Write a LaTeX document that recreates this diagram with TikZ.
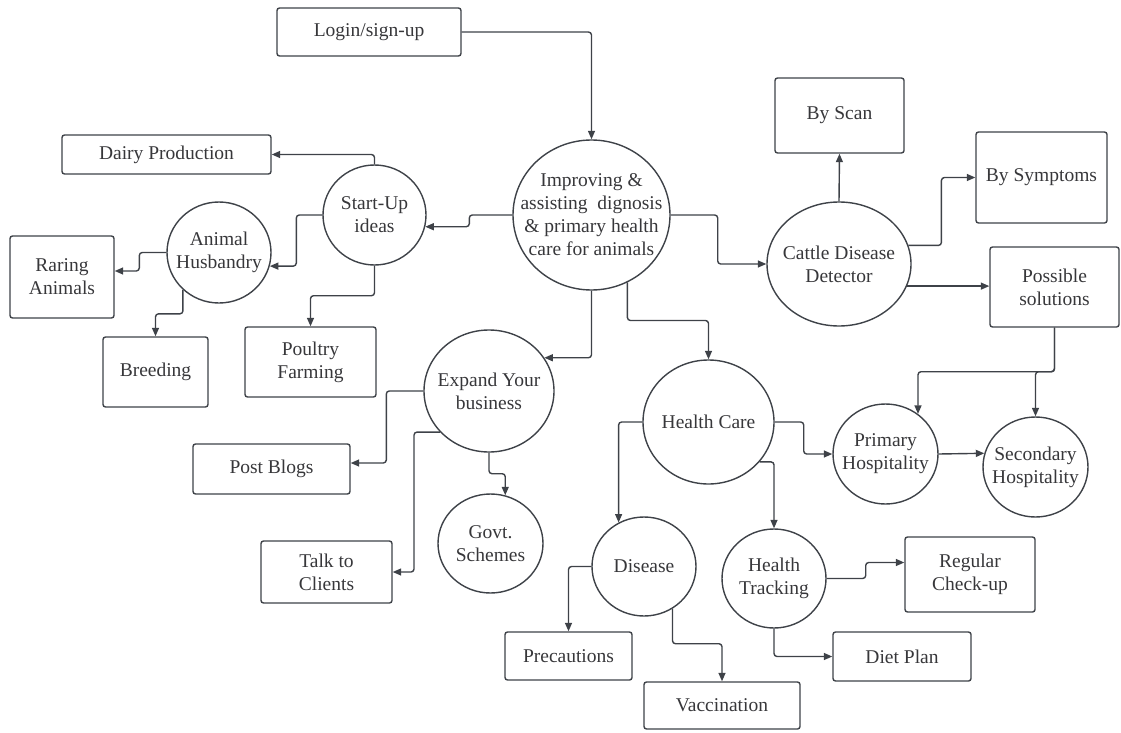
\documentclass[tikz,border=0pt]{standalone}
\usepackage{fontspec}
\setmainfont{Liberation Serif}
\usetikzlibrary{shapes.geometric,arrows.meta,calc}
\definecolor{linecol}{RGB}{62,66,72}
\definecolor{txtcol}{RGB}{55,55,58}
\tikzset{
  fnt/.style={text=txtcol,align=center,font=\fontsize{19.5}{23}\selectfont},
  base/.style={draw=linecol,line width=1.4pt,inner sep=0pt},
  boxn/.style={base,fnt,rectangle,rounded corners=2.5pt},
  circn/.style={base,ellipse},
  lbl/.style={fnt,inner sep=0pt},
  arr/.style={draw=linecol,line width=1.4pt,rounded corners=3pt,-{Triangle[length=8.5pt,width=7pt]}},
}
\begin{document}
\begin{tikzpicture}[x=1pt,y=-1pt]
\useasboundingbox (0,0) rectangle (1121,733);
% boxes
\node[boxn,minimum width=184,minimum height=48] (login) at (369,32) {Login/sign-up};
\node[boxn,minimum width=209,minimum height=39] (dairy) at (166.5,154.5) {Dairy Production};
\node[boxn,minimum width=104,minimum height=82] (raring) at (62,277) {Raring\\Animals};
\node[boxn,minimum width=105,minimum height=70] (breeding) at (155.5,372) {Breeding};
\node[boxn,minimum width=131,minimum height=70] (poultry) at (310.5,362) {Poultry\\Farming};
\node[boxn,minimum width=157,minimum height=50] (blogs) at (271.5,469) {Post Blogs};
\node[boxn,minimum width=131,minimum height=62] (talk) at (326.5,572) {Talk to\\Clients};
\node[boxn,minimum width=127,minimum height=48] (prec) at (568.5,656) {Precautions};
\node[boxn,minimum width=156,minimum height=47] (vacc) at (722,705.5) {Vaccination};
\node[boxn,minimum width=138,minimum height=49] (diet) at (902,656.5) {Diet Plan};
\node[boxn,minimum width=130,minimum height=75] (regular) at (970,574.5) {Regular\\Check-up};
\node[boxn,minimum width=129,minimum height=75] (byscan) at (839.5,115.5) {By Scan};
\node[boxn,minimum width=131,minimum height=91] (bysym) at (1041.5,177.5) {By Symptoms};
\node[boxn,minimum width=129,minimum height=80] (possible) at (1054.5,287) {Possible\\solutions};
% circles (text as centred labels so the outline keeps its size)
\node[circn,minimum width=157,minimum height=150,label={[lbl]center:{Improving \&\\assisting\ \ dignosis\\\& primary health\\care for animals}}] (main) at (591.5,215) {};
\node[circn,minimum width=103,minimum height=100,label={[lbl]center:{Start-Up\\ideas}}] (startup) at (374.5,215) {};
\node[circn,minimum width=104,minimum height=101,label={[lbl]center:{Animal\\Husbandry}}] (ah) at (219,252.5) {};
\node[circn,minimum width=144,minimum height=124,label={[lbl]center:{Cattle Disease\\Detector}}] (cattle) at (839,264) {};
\node[circn,minimum width=130,minimum height=122,label={[lbl]center:{Expand Your\\business}}] (expand) at (489,391) {};
\node[circn,minimum width=105,minimum height=99,label={[lbl]center:{Govt.\\Schemes}}] (govt) at (490.5,543.5) {};
\node[circn,minimum width=131,minimum height=124,label={[lbl]center:{Health Care}}] (hc) at (708.5,422) {};
\node[circn,minimum width=105,minimum height=100,label={[lbl]center:{Primary\\Hospitality}}] (primary) at (885.5,454) {};
\node[circn,minimum width=105,minimum height=100,label={[lbl]center:{Secondary\\Hospitality}}] (secondary) at (1035.5,467) {};
\node[circn,minimum width=104,minimum height=99,label={[lbl]center:{Disease}}] (disease) at (644,566.5) {};
\node[circn,minimum width=104,minimum height=99,label={[lbl]center:{Health\\Tracking}}] (ht) at (774,578.5) {};
% connectors
\draw[arr] (login.east) -| (main.north);
\draw[arr] (main.west) -- ++(-43,0) |- (startup.-13);
\draw[arr] (startup.north) |- (dairy.east);
\draw[arr] (startup.west) -- ++(-26,0) |- (ah.-15);
\draw[arr] (ah.west) -- ++(-27,0) |- ([yshift=6pt]raring.east);
\draw[arr] (ah.-134) -- ++(0,24) -| (breeding.north);
\draw[arr] (startup.south) -- ++(0,30) -| (poultry.north);
\draw[arr] (main.south) |- (expand.31);
\draw[arr] (main.east) -- ++(47,0) |- (cattle.west);
\draw[arr] (main.-62) -- ++(0,38) -| (hc.north);
\draw[arr] (cattle.north) -- (byscan.south);
\draw[arr] (cattle.15) -- ++(33,0) |- (bysym.west);
\draw[arr] (cattle.-18) -- (cattle.-18 -| possible.west);
\draw[arr] (possible.south) -- ++(0,44) -| (primary.51);
\draw[arr] (possible.south) -- ++(0,44) -| (secondary.north);
\draw[arr] (hc.east) -- ++(29,0) |- (primary.west);
\draw[arr] (primary.east) -- (secondary.165);
\draw[arr] (hc.west) -| (disease.120);
\draw[arr] (hc.-38) -| (ht.north);
\draw[arr] (ht.east) -- ++(39,0) |- ([yshift=12pt]regular.west);
\draw[arr] (ht.south) |- (diet.west);
\draw[arr] (disease.west) -| (prec.north);
\draw[arr] (disease.-56) -- ++(0,35) -| (vacc.north);
\draw[arr] (expand.west) -- ++(-37,0) |- ([yshift=6pt]blogs.east);
\draw[arr] (expand.-140) -- ++(-26,0) |- (talk.east);
\draw[arr] (expand.south) -- ++(0,21) -| (govt.73);
\end{tikzpicture}
\end{document}
